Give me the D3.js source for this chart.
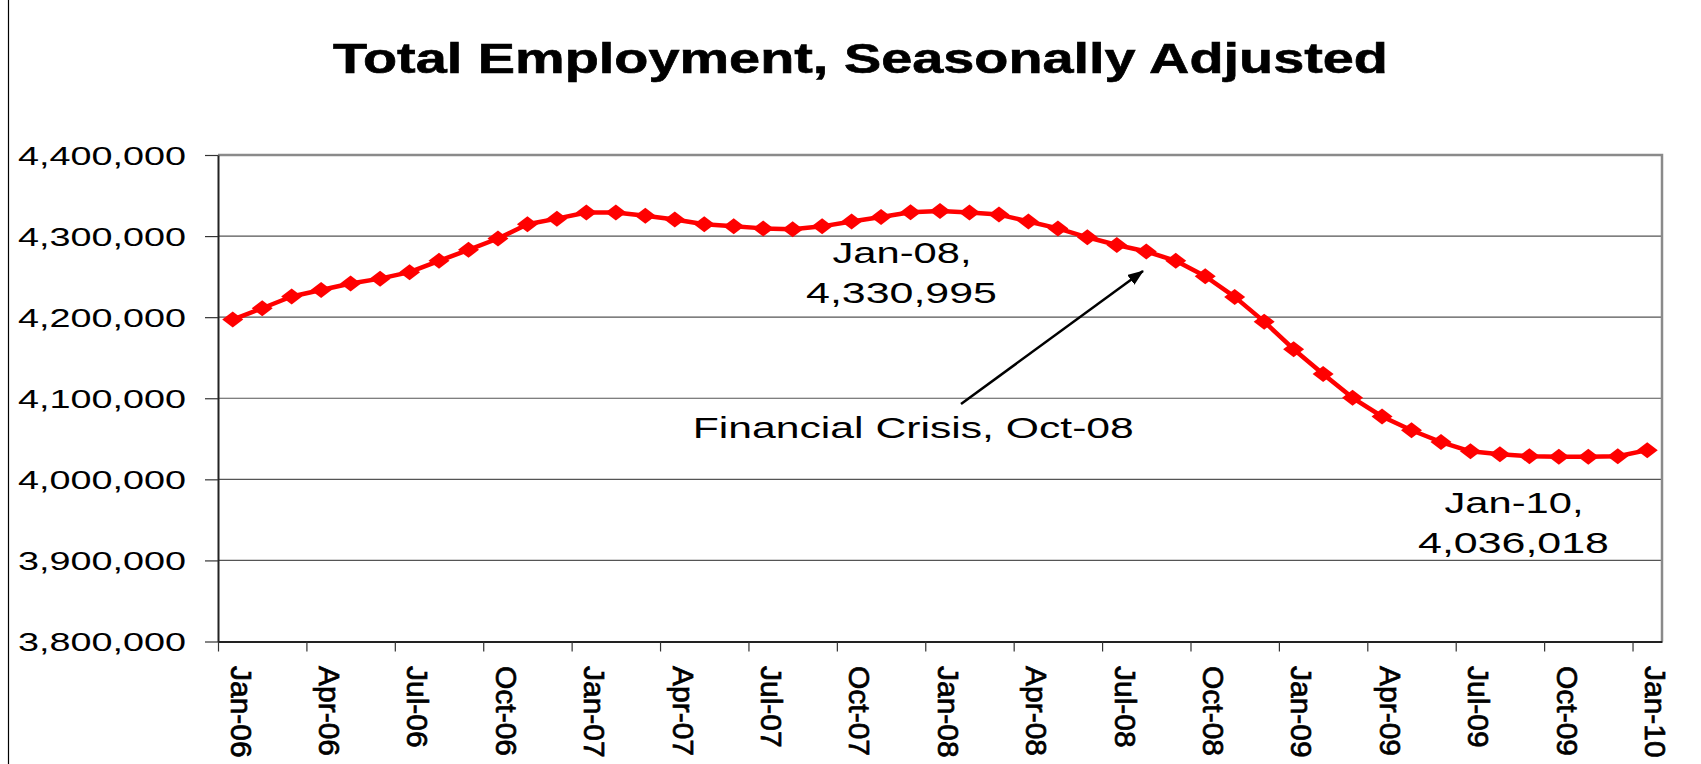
<!DOCTYPE html>
<head>
  <meta charset="utf-8">
  <script src="https://d3js.org/d3.v7.min.js"></script>
  <style>
    body { margin: 0; background: #fff; }
    text { font-family: Arial, "Liberation Sans", sans-serif; fill: #000; }
  </style>
</head>
<body>
  <script>
    // monthly categories, Jan-06 .. Jan-10
    var months = ["Jan-06","Feb-06","Mar-06","Apr-06","May-06","Jun-06","Jul-06","Aug-06","Sep-06","Oct-06","Nov-06","Dec-06",
                  "Jan-07","Feb-07","Mar-07","Apr-07","May-07","Jun-07","Jul-07","Aug-07","Sep-07","Oct-07","Nov-07","Dec-07",
                  "Jan-08","Feb-08","Mar-08","Apr-08","May-08","Jun-08","Jul-08","Aug-08","Sep-08","Oct-08","Nov-08","Dec-08",
                  "Jan-09","Feb-09","Mar-09","Apr-09","May-09","Jun-09","Jul-09","Aug-09","Sep-09","Oct-09","Nov-09","Dec-09",
                  "Jan-10"];

    var employment = [4197000, 4211000, 4225500, 4233500, 4241500, 4247500, 4255500, 4269500, 4283000, 4297000, 4314500, 4321500,
                      4329000, 4329000, 4325000, 4320500, 4314500, 4312000, 4309500, 4308500, 4312000, 4318000, 4323500, 4329500,
                      4330995, 4329000, 4326500, 4318000, 4309500, 4298500, 4289000, 4281000, 4269500, 4250500, 4225000, 4194500,
                      4160500, 4130000, 4100500, 4077500, 4060500, 4046000, 4034500, 4031000, 4028500, 4028000, 4028000, 4028500,
                      4036018];

    var tickLabels = ["Jan-06","Apr-06","Jul-06","Oct-06","Jan-07","Apr-07","Jul-07","Oct-07",
                      "Jan-08","Apr-08","Jul-08","Oct-08","Jan-09","Apr-09","Jul-09","Oct-09","Jan-10"];

    var yTicks = [3800000, 3900000, 4000000, 4100000, 4200000, 4300000, 4400000];

    var width = 1701, height = 764;
    var plot = {left: 218, right: 1662, top: 155, bottom: 641.5};

    var svg = d3.select("body").append("svg")
      .attr("width", width)
      .attr("height", height);

    // outer chart frame (left edge)
    svg.append("line")
      .attr("x1", 8.5).attr("x2", 8.5).attr("y1", 0).attr("y2", height)
      .attr("stroke", "#000").attr("stroke-width", 1.2);

    var x = d3.scaleLinear()
              .domain([0, months.length])
              .range([plot.left, plot.right]);

    var y = d3.scaleLinear()
              .domain([3800000, 4400000])
              .range([plot.bottom, plot.top]);

    // title
    svg.append("text")
      .attr("x", 333).attr("y", 72.5)
      .attr("font-size", 42).attr("font-weight", "bold")
      .attr("stroke", "#000").attr("stroke-width", 0.6)
      .attr("textLength", 1055).attr("lengthAdjust", "spacingAndGlyphs")
      .text("Total Employment, Seasonally Adjusted");

    // gridlines
    svg.append("g").selectAll("line")
      .data(yTicks.slice(1, -1))
      .enter().append("line")
        .attr("x1", plot.left).attr("x2", plot.right)
        .attr("y1", y).attr("y2", y)
        .attr("stroke", "#555").attr("stroke-width", 1.2);

    // plot border top + right (grey)
    svg.append("path")
      .attr("d", "M" + plot.left + "," + y(4400000) + "H" + plot.right + "V" + plot.bottom)
      .attr("fill", "none").attr("stroke", "#8a8a8a").attr("stroke-width", 2.5);

    // y axis
    var yAxis = svg.append("g")
      .attr("transform", "translate(" + plot.left + ",0)")
      .call(d3.axisLeft(y).tickValues(yTicks).tickSize(13).tickSizeOuter(0)
              .tickPadding(19).tickFormat(d3.format(",")));
    yAxis.select(".domain").attr("stroke", "#222").attr("stroke-width", 2);
    yAxis.selectAll(".tick line").attr("stroke", "#333").attr("stroke-width", 1.2);
    yAxis.selectAll(".tick text")
      .attr("font-size", 25).attr("font-family", null).attr("fill", "#000")
      .attr("dy", "0.36em")
      .attr("textLength", 168).attr("lengthAdjust", "spacingAndGlyphs");

    // x axis
    var xAxis = svg.append("g")
      .attr("transform", "translate(0," + plot.bottom + ")")
      .call(d3.axisBottom(x)
              .tickValues(tickLabels.map(function(l) { return months.indexOf(l); }))
              .tickSize(10).tickSizeOuter(0)
              .tickFormat(function(i) { return months[i]; }));
    xAxis.select(".domain").attr("stroke", "#222").attr("stroke-width", 2.2);
    xAxis.selectAll(".tick line").attr("stroke", "#333").attr("stroke-width", 1.2);
    xAxis.selectAll(".tick text")
      .attr("font-size", 30).attr("font-family", null).attr("fill", "#000")
      .attr("stroke", "#000").attr("stroke-width", 0.7)
      .attr("transform", "rotate(90)")
      .attr("text-anchor", "start")
      .attr("x", 24.5).attr("y", -12).attr("dy", 0);

    // series line
    var line = d3.line()
      .x(function(d, i) { return x(i + 0.5); })
      .y(function(d) { return y(d); });

    svg.append("path")
      .datum(employment)
      .attr("d", line)
      .attr("fill", "none")
      .attr("stroke", "#ff0000")
      .attr("stroke-width", 4.5)
      .attr("stroke-linejoin", "round");

    // diamond markers
    svg.append("g").selectAll("path")
      .data(employment)
      .enter().append("path")
        .attr("transform", function(d, i) { return "translate(" + x(i + 0.5) + "," + y(d) + ")"; })
        .attr("d", "M0,-8L10.5,0L0,8L-10.5,0Z")
        .attr("fill", "#ff0000");

    // annotations
    function label(txt, cx, base, len) {
      svg.append("text")
        .attr("x", cx).attr("y", base)
        .attr("text-anchor", "middle")
        .attr("font-size", 30)
        .attr("textLength", len).attr("lengthAdjust", "spacingAndGlyphs")
        .text(txt);
    }
    label("Jan-08,", 902, 263.3, 139);
    label("4,330,995", 901.5, 303.3, 191);
    label("Jan-10,", 1514, 513.3, 139);
    label("4,036,018", 1513.5, 553.3, 191);

    svg.append("text")
      .attr("x", 692.8).attr("y", 438)
      .attr("font-size", 30)
      .attr("textLength", 441).attr("lengthAdjust", "spacingAndGlyphs")
      .text("Financial Crisis, Oct-08");

    // arrow pointing at Oct-08 region
    svg.append("defs").append("marker")
      .attr("id", "head")
      .attr("markerUnits", "userSpaceOnUse")
      .attr("markerWidth", 16).attr("markerHeight", 12)
      .attr("refX", 15).attr("refY", 6)
      .attr("orient", "auto")
      .append("path")
        .attr("d", "M0,0L16,6L0,12Z")
        .attr("fill", "#000");

    svg.append("line")
      .attr("x1", 961).attr("y1", 404)
      .attr("x2", 1143).attr("y2", 271)
      .attr("stroke", "#000").attr("stroke-width", 2.5)
      .attr("marker-end", "url(#head)");
  </script>
</body>
